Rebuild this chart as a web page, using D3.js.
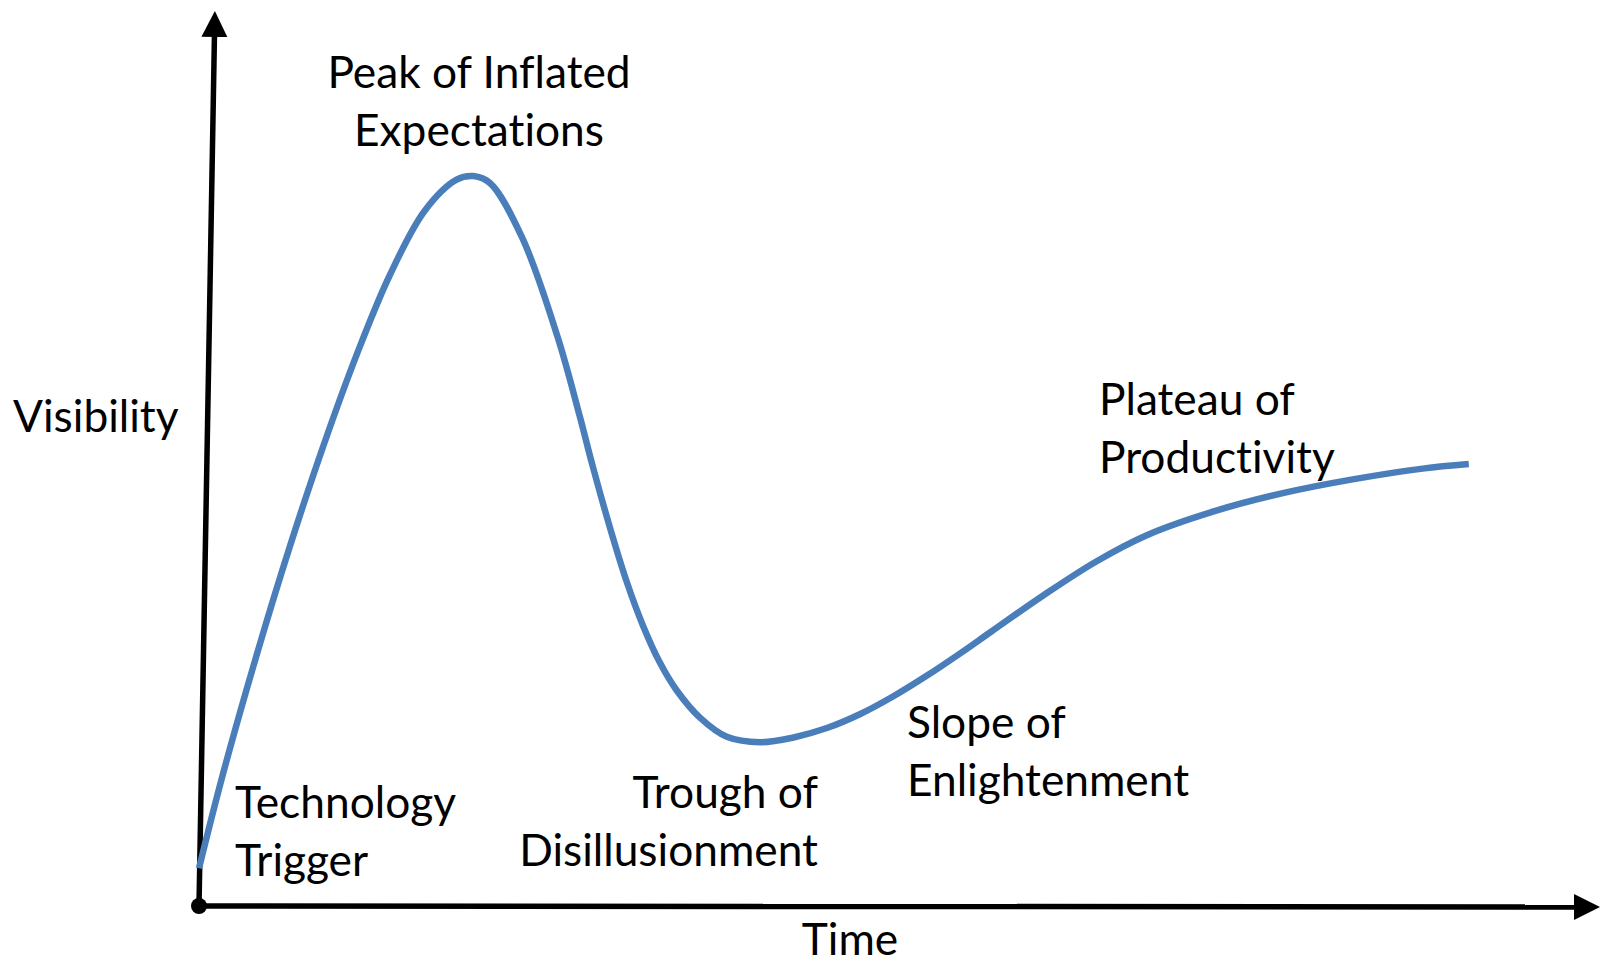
<!DOCTYPE html>
<html>
<head>
<meta charset="utf-8">
<script src="https://cdn.jsdelivr.net/npm/d3@7"></script>
<style>
  html, body { margin: 0; padding: 0; background: #fff; }
  svg { display: block; }
  text { font-family: Lato, "Open Sans", sans-serif; fill: #000;
         font-variant-ligatures: none; font-feature-settings: "liga" 0, "clig" 0; }
</style>
</head>
<body>
<svg id="chart" width="1602" height="963"></svg>
<script>
// ---- data ----
const time = [0, 1.7, 4.1, 6.5, 8.9, 11.3, 13.6, 16.1, 18.4, 19.6, 20.8, 23.1, 25.6, 27.2, 28.1, 29.4,
  30.6, 31.7, 32.9, 34.1, 35.8, 37.7, 40.1, 42.4, 44.9, 47.2, 49.6, 52.0, 54.4, 56.6, 60.3, 64.0,
  67.7, 72.6, 77.5, 82.4, 87.4, 90.7];
const visibility = [4.2, 14.6, 27.8, 40.0, 51.2, 61.4, 70.0, 77.2, 80.7, 81.1, 80.3, 74.2, 63.3, 54.4, 49.0, 41.8,
  35.8, 31.2, 27.1, 24.0, 20.9, 18.8, 18.2, 18.7, 19.8, 21.3, 23.3, 25.6, 28.1, 30.5, 34.5, 38.2,
  41.2, 43.9, 45.9, 47.4, 48.6, 49.1];
const phaseLabels = [
  ["Peak of Inflated", "Expectations"],
  ["Technology", "Trigger"],
  ["Trough of", "Disillusionment"],
  ["Slope of", "Enlightenment"],
  ["Plateau of", "Productivity"]
];
const axisTitles = { x: "Time", y: "Visibility" };

// ---- layout ----
const svg = d3.select("#chart");
const x = d3.scaleLinear().domain([0, 100]).range([199, 1599]);
const y = d3.scaleLinear().domain([0, 100]).range([906, 6]);

const phasePos = [
  { x: 479, y: 88, anchor: "middle" },
  { x: 235, y: 818, anchor: "start" },
  { x: 818, y: 808, anchor: "end" },
  { x: 907, y: 738, anchor: "start" },
  { x: 1099, y: 415, anchor: "start" }
];
const lineGap = 57.5;

// font size fitted so that "Disillusionment" is ~299px wide
const probe = svg.append("text").attr("font-size", 100).text("Disillusionment");
const fs = 100 * 299 / probe.node().getComputedTextLength();
probe.remove();

// ---- axes ----
const defs = svg.append("defs");
defs.append("marker")
  .attr("id", "arrow")
  .attr("markerUnits", "userSpaceOnUse")
  .attr("markerWidth", 30).attr("markerHeight", 30)
  .attr("refX", 4).attr("refY", 13)
  .attr("viewBox", "0 0 30 26")
  .attr("orient", "auto")
  .append("path")
  .attr("d", "M0,0 L26,13 L0,26 Z")
  .attr("fill", "#000");

const ox = x(0), oy = y(0);
// x axis
svg.append("line")
  .attr("x1", ox).attr("y1", oy)
  .attr("x2", 1578).attr("y2", oy + 1)
  .attr("stroke", "#000").attr("stroke-width", 5.5)
  .attr("marker-end", "url(#arrow)");
// y axis (slightly slanted as in the original)
svg.append("line")
  .attr("x1", ox).attr("y1", oy)
  .attr("x2", ox + 15.5).attr("y2", 33)
  .attr("stroke", "#000").attr("stroke-width", 5.5)
  .attr("marker-end", "url(#arrow)");
svg.append("circle").attr("cx", ox).attr("cy", oy).attr("r", 8).attr("fill", "#000");

// ---- curve ----
const pts = time.map((t, i) => [t, visibility[i]]);
const line = d3.line()
  .x(d => x(d[0]))
  .y(d => y(d[1]))
  .curve(d3.curveCatmullRom.alpha(0.5));
svg.append("path")
  .datum(pts)
  .attr("d", line)
  .attr("fill", "none")
  .attr("stroke", "#4a7ebb")
  .attr("stroke-width", 6.5);

// ---- labels ----
phaseLabels.forEach((lines, i) => {
  const p = phasePos[i];
  const t = svg.append("text")
    .attr("font-size", fs)
    .attr("text-anchor", p.anchor);
  lines.forEach((s, j) => {
    t.append("tspan").attr("x", p.x).attr("y", p.y + j * lineGap).text(s);
  });
});
svg.append("text").attr("font-size", fs).attr("x", 13).attr("y", 432).text(axisTitles.y);
svg.append("text").attr("font-size", fs).attr("x", 850).attr("y", 955)
  .attr("text-anchor", "middle").text(axisTitles.x);
</script>
</body>
</html>
